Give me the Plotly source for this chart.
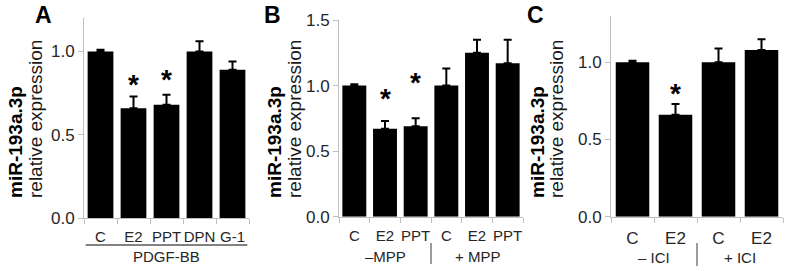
import plotly.graph_objects as go

W, H = 788, 271

# ---------------- data ----------------
a_cats = ["C", "E2", "PPT", "DPN", "G-1"]
a_vals = [1.00, 0.66, 0.68, 1.00, 0.89]
a_err = [0.01, 0.07, 0.06, 0.06, 0.05]
a_sig = [None, 0.83, 0.86, None, None]
a_group = "PDGF-BB"

b_cats = ["C", "E2", "PPT", "C", "E2", "PPT"]
b_vals = [1.00, 0.67, 0.69, 1.00, 1.25, 1.17]
b_err = [0.01, 0.06, 0.06, 0.13, 0.10, 0.18]
b_sig = [None, 0.94, 1.06, None, None, None]
b_groups = ["\u2013MPP", "+ MPP"]

c_cats = ["C", "E2", "C", "E2"]
c_vals = [1.00, 0.66, 1.00, 1.08]
c_err = [0.01, 0.07, 0.09, 0.07]
c_sig = [None, 0.83, None, None]
c_groups = ["\u2013 ICI", "+ ICI"]

y_title_bold = "miR-193a.3p"
y_title_reg = "relative expression"

FONT = "Liberation Sans, Arial, sans-serif"
AXC = "#bfbfbf"
TXT = "#262626"


def px(x):
    return x / W


def py(y):
    return 1 - y / H


fig = go.Figure()

panels = [
    dict(cats=a_cats, vals=a_vals, err=a_err, sig=a_sig, x0=84, x1=249, y0=218.3, y1=18,
         yr=1.2, ticks=[0, 0.5, 1.0], gap=0.21, xfs=15, letter="A", lx=43, tb=15, tr=35),
    dict(cats=b_cats, vals=b_vals, err=b_err, sig=b_sig, x0=339, x1=523, y0=216.7, y1=20,
         yr=1.5, ticks=[0, 0.5, 1.0, 1.5], gap=0.22, xfs=15, letter="B", lx=272, tb=274, tr=294),
    dict(cats=c_cats, vals=c_vals, err=c_err, sig=c_sig, x0=611, x1=783, y0=216.7, y1=16,
         yr=1.3, ticks=[0, 0.5, 1.0], gap=0.23, xfs=17, letter="C", lx=535, tb=537, tr=556),
]

annotations = []
shapes = []

for i, p in enumerate(panels):
    k = "" if i == 0 else str(i + 1)
    n = len(p["cats"])
    xs = list(range(n))
    fig.add_trace(go.Bar(
        x=xs, y=p["vals"], xaxis="x" + k, yaxis="y" + k,
        marker=dict(color="black", line=dict(width=0)),
        error_y=dict(type="data", array=p["err"], arrayminus=[0] * n, symmetric=False,
                     color="black", thickness=2, width=4),
        showlegend=False,
    ))
    fig.update_layout(**{
        "xaxis" + k: dict(
            domain=[px(p["x0"]), px(p["x1"])], anchor="y" + k, automargin=False,
            range=[-0.5, n - 0.5], tickvals=xs, ticktext=p["cats"], ticks="",
            ticklabelstandoff=5 if i < 2 else 6, tickangle=0,
            showline=True, linecolor=AXC, linewidth=1, showgrid=False, zeroline=False,
            minor=dict(tickvals=[j - 0.5 for j in range(n + 1)], ticks="outside",
                       ticklen=5, tickcolor=AXC, tickwidth=1, showgrid=False),
            tickfont=dict(family=FONT, size=p["xfs"], color=TXT),
            fixedrange=True,
        ),
        "yaxis" + k: dict(
            domain=[py(p["y0"]), py(p["y1"])], anchor="x" + k, automargin=False,
            range=[0, p["yr"]], tickvals=p["ticks"], tickformat=".1f",
            ticks="outside", ticklen=5, tickcolor=AXC, tickwidth=1,
            showline=True, linecolor=AXC, linewidth=1, showgrid=False, zeroline=False,
            tickfont=dict(family=FONT, size=17, color=TXT),
            fixedrange=True,
        ),
    })
    # significance asterisks
    for j, s in enumerate(p["sig"]):
        if s is not None:
            annotations.append(dict(
                x=j, y=s, xref="x" + k, yref="y" + k, text="<b>*</b>", showarrow=False,
                font=dict(family=FONT, size=28, color="black"), yanchor="middle", yshift=-5))
    # panel letter
    annotations.append(dict(
        x=px(p["lx"]), y=py(15), xref="paper", yref="paper", text="<b>" + p["letter"] + "</b>",
        showarrow=False, font=dict(family=FONT, size=23, color="black"),
        xanchor="center", yanchor="middle"))
    # y title (two lines, bottom-aligned)
    annotations.append(dict(
        x=px(p["tb"]), y=py(200), xref="paper", yref="paper", text="<b>" + y_title_bold + "</b>",
        textangle=-90, showarrow=False, font=dict(family=FONT, size=19, color="black"),
        xanchor="center", yanchor="bottom"))
    annotations.append(dict(
        x=px(p["tr"]), y=py(200), xref="paper", yref="paper", text=y_title_reg,
        textangle=-90, showarrow=False, font=dict(family=FONT, size=19, color="#1a1a1a"),
        xanchor="center", yanchor="bottom"))

GL = dict(family=FONT, size=15, color=TXT)
# panel A group label with underline
annotations.append(dict(x=2, y=py(256), xref="x", yref="paper", text=a_group, showarrow=False,
                        font=GL, yanchor="middle"))
shapes.append(dict(type="line", xref="x", yref="paper", x0=-0.45, x1=4.45, y0=py(245), y1=py(245),
                   line=dict(color="#595959", width=1.5)))

# panel B group labels
annotations.append(dict(x=1, y=py(256), xref="x2", yref="paper", text=b_groups[0], showarrow=False,
                        font=GL, yanchor="middle"))
annotations.append(dict(x=4, y=py(256), xref="x2", yref="paper", text=b_groups[1], showarrow=False,
                        font=GL, yanchor="middle"))
shapes.append(dict(type="line", xref="x2", yref="paper", x0=2.5, x1=2.5, y0=py(243), y1=py(264),
                   line=dict(color="#595959", width=1.2)))

# panel C group labels
annotations.append(dict(x=0.5, y=py(257), xref="x3", yref="paper", text=c_groups[0], showarrow=False,
                        font=GL, yanchor="middle"))
annotations.append(dict(x=2.5, y=py(257), xref="x3", yref="paper", text=c_groups[1], showarrow=False,
                        font=GL, yanchor="middle"))
shapes.append(dict(type="line", xref="x3", yref="paper", x0=1.5, x1=1.5, y0=py(243), y1=py(266),
                   line=dict(color="#595959", width=1.2)))

fig.update_layout(
    width=W, height=H, margin=dict(l=0, r=0, t=0, b=0, autoexpand=False),
    paper_bgcolor="white", plot_bgcolor="white",
    bargap=0.22, annotations=annotations, shapes=shapes,
    font=dict(family=FONT, color=TXT),
)

fig.write_html("out.html")
